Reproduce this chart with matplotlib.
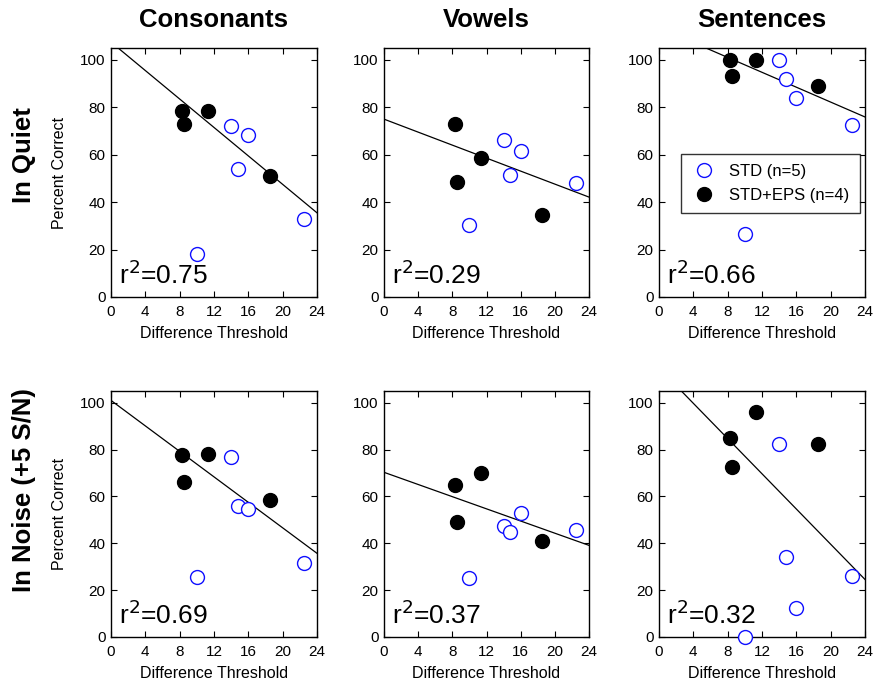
import matplotlib
matplotlib.use("Agg")
import matplotlib.pyplot as plt
import numpy as np

plt.rcParams['font.family'] = ['Liberation Sans', 'DejaVu Sans']

columns = ["Consonants", "Vowels", "Sentences"]
rows = ["In Quiet", "In Noise (+5 S/N)"]

# Difference thresholds (shared x values)
eps_x = [8.3, 8.5, 11.3, 18.5]
std_x = [10.0, 14.0, 14.8, 16.0, 22.5]

# Percent correct, STD+EPS group (filled)
eps_quiet_cons = [78.5, 73.0, 78.5, 51.0]
eps_quiet_vow = [73.0, 48.5, 58.5, 34.5]
eps_quiet_sent = [100.0, 93.0, 100.0, 89.0]
eps_noise_cons = [77.5, 66.0, 78.0, 58.5]
eps_noise_vow = [65.0, 49.0, 70.0, 41.0]
eps_noise_sent = [85.0, 72.5, 96.0, 82.5]

# Percent correct, STD group (open)
std_quiet_cons = [18.0, 72.0, 54.0, 68.5, 33.0]
std_quiet_vow = [30.5, 66.0, 51.5, 61.5, 48.0]
std_quiet_sent = [26.5, 100.0, 92.0, 84.0, 72.5]
std_noise_cons = [25.5, 77.0, 56.0, 54.5, 31.5]
std_noise_vow = [25.0, 47.5, 45.0, 53.0, 45.5]
std_noise_sent = [0.0, 82.5, 34.0, 12.5, 26.0]

# Regression lines (intercept, slope) and r^2
fit_intercepts = [[107.5, 75.0, 113.6], [101.0, 70.3, 114.8]]
fit_slopes = [[-3.0, -1.37, -1.57], [-2.72, -1.30, -3.76]]
r2_values = [["0.75", "0.29", "0.66"], ["0.69", "0.37", "0.32"]]

eps_data = [[eps_quiet_cons, eps_quiet_vow, eps_quiet_sent],
            [eps_noise_cons, eps_noise_vow, eps_noise_sent]]
std_data = [[std_quiet_cons, std_quiet_vow, std_quiet_sent],
            [std_noise_cons, std_noise_vow, std_noise_sent]]

fig = plt.figure(figsize=(8.74, 6.87), dpi=100)
lefts = [0.127, 0.4394, 0.754]
widths = [0.2357, 0.2346, 0.2357]
bottoms = [0.5677, 0.0728]
heights = [0.3624, 0.358]

for r in range(2):
    for c in range(3):
        ax = fig.add_axes([lefts[c], bottoms[r], widths[c], heights[r]])
        xx = np.array([0, 24])
        ax.plot(xx, fit_intercepts[r][c] + fit_slopes[r][c] * xx, color='black', lw=0.9, zorder=2)
        ax.plot(std_x, std_data[r][c], 'o', ms=10, mfc='white', mec='#1010ff', mew=1.0,
                clip_on=False, zorder=3, label='STD (n=5)')
        ax.plot(eps_x, eps_data[r][c], 'o', ms=10, mfc='black', mec='black', mew=1.0,
                clip_on=False, zorder=3, label='STD+EPS (n=4)')
        ax.set_xlim(0, 24)
        ax.set_ylim(0, 105)
        ax.set_xticks(range(0, 25, 4))
        ax.set_yticks(range(0, 101, 20))
        ax.tick_params(direction='in', top=True, right=True, length=4, width=0.8,
                       labelsize=11, pad=4, colors='black')
        ax.tick_params(axis='x', pad=6)
        for s in ax.spines.values():
            s.set_linewidth(1.0)
        ax.set_xlabel("Difference Threshold", fontsize=11.5, labelpad=5)
        if c == 0:
            ax.set_ylabel("Percent Correct", fontsize=11.5, labelpad=9)
        ax.text(0.9, 3.5, r"r$^2$=" + r2_values[r][c], fontsize=19, ha='left', va='bottom')
        if r == 0:
            ax.set_title(columns[c], fontsize=18.5, fontweight='bold', pad=15)
        if r == 0 and c == 2:
            leg = ax.legend(loc='center', bbox_to_anchor=(0.54, 0.456), frameon=True,
                            fancybox=False, edgecolor='black', fontsize=12,
                            handletextpad=0.7, borderpad=0.6, labelspacing=0.5,
                            handlelength=1.6, borderaxespad=0)
            leg.get_frame().set_linewidth(1.0)

fig.text(0.0275, 0.775, rows[0], rotation=90, fontsize=18.5, fontweight='bold',
         ha='center', va='center')
fig.text(0.0275, 0.287, rows[1], rotation=90, fontsize=18.5, fontweight='bold',
         ha='center', va='center')

fig.savefig("out.png", dpi=100)
